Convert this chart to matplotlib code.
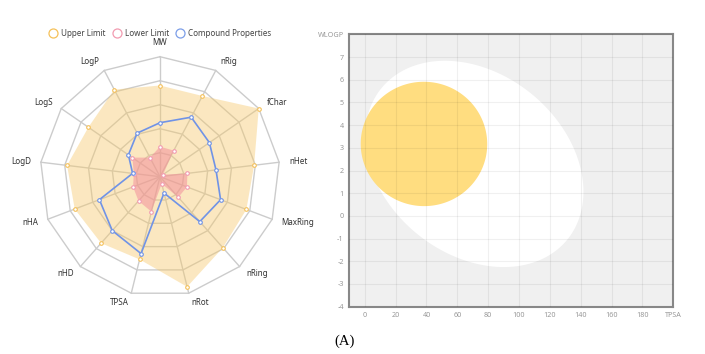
import numpy as np
import matplotlib.pyplot as plt
from matplotlib.lines import Line2D

plt.rcParams['font.family'] = ['Noto Sans', 'DejaVu Sans']

# radar values, scaled so the outer ring is 1
props = ['MW', 'nRig', 'fChar', 'nHet', 'MaxRing', 'nRing', 'nRot',
         'TPSA', 'nHD', 'nHA', 'LogD', 'LogS', 'LogP']
upper = [0.76, 0.76, 1.0, 0.79, 0.77, 0.79, 0.945, 0.71, 0.74, 0.76, 0.78, 0.725, 0.82]
lower = [0.25, 0.246, 0.03, 0.23, 0.24, 0.23, 0.06, 0.30, 0.27, 0.24, 0.22, 0.28, 0.18]
compound = [0.45, 0.56, 0.50, 0.47, 0.54, 0.50, 0.14, 0.66, 0.60, 0.54, 0.23, 0.32, 0.41]

# boiled egg: centre (TPSA, WLOGP), semi axes in TPSA units, tilt in degrees
white_center = (71.05, 2.29)
white_axes = (77.7, 58.6)
white_angle = -39.1
yolk_center = (38.4, 3.17)
yolk_axes = (41.0, 40.3)
yolk_angle = -4.0

tpsa_ticks = [0, 20, 40, 60, 80, 100, 120, 140, 160, 180, 200]
tpsa_labels = ['0', '20', '40', '60', '80', '100', '120', '140', '160', '180', 'TPSA']
wlogp_ticks = [-4, -3, -2, -1, 0, 1, 2, 3, 4, 5, 6, 7, 8]
wlogp_labels = ['-4', '-3', '-2', '-1', '0', '1', '2', '3', '4', '5', '6', '7', 'WLOGP']

W, H = 705, 354
fig = plt.figure(figsize=(W / 100, H / 100), dpi=100)

# ---- radar ----
ax = fig.add_axes([20 / W, 37.3 / H, 280 / W, 280 / H])
ax.set_xlim(-1.1667, 1.1667)
ax.set_ylim(-1.1667, 1.1667)
ax.axis('off')

n = len(props)
ang = np.pi / 2 - 2 * np.pi * np.arange(n) / n


def to_xy(vals):
    v = np.array(vals + vals[:1])
    a = np.append(ang, ang[0])
    return v * np.cos(a), v * np.sin(a)


for k in range(1, 6):
    gx, gy = to_xy([k / 5] * n)
    ax.plot(gx, gy, color='#cccccc', lw=1, zorder=1)
for a in ang:
    ax.plot([0, np.cos(a)], [0, np.sin(a)], color='#cccccc', lw=1, zorder=1)

ux, uy = to_xy(upper)
ax.fill(ux, uy, color='#f6c86a', alpha=0.42, lw=0, zorder=2)
ax.plot(ux[:-1], uy[:-1], 'o', ms=2.6, mfc='white', mec='#f5c15a', mew=0.8, zorder=5)

lx, ly = to_xy(lower)
ax.fill(lx, ly, color='#f2889a', alpha=0.5, lw=0, zorder=3)
ax.plot(lx[:-1], ly[:-1], 'o', ms=2.6, mfc='white', mec='#f29bb0', mew=0.8, zorder=5)

cx, cy = to_xy(compound)
ax.plot(cx, cy, color='#7093e6', lw=1.2, zorder=4)
ax.plot(cx[:-1], cy[:-1], 'o', ms=2.6, mfc='white', mec='#7093e6', mew=0.8, zorder=5)

for name, a in zip(props, ang):
    c, s = np.cos(a), np.sin(a)
    if abs(c) < 0.05:
        ax.text(0, 1.083, name, ha='center', va='bottom', fontsize=5.8, color='#333333')
    else:
        ax.text(1.083 * c, 1.083 * s, name, ha='left' if c > 0 else 'right',
                va='center', fontsize=5.8, color='#333333')

handles = [Line2D([], [], marker='o', ms=6.5, mfc='none', mec=col, mew=0.9, lw=0)
           for col in ['#f5c15a', '#f29bb0', '#7c9ee8']]
fig.legend(handles, ['Upper Limit', 'Lower Limit', 'Compound Properties'],
           loc='center', bbox_to_anchor=(160 / W, 1 - 33 / H), ncol=3, frameon=False,
           fontsize=5.8, handletextpad=0.5, columnspacing=0.9, handlelength=1.0,
           labelcolor='#444444')

# ---- boiled egg ----
ax2 = fig.add_axes([349.3 / W, 47.3 / H, 324 / W, 272.4 / H])
ax2.set_facecolor('#f0f0f0')
ax2.set_xlim(-10, 200)
ax2.set_ylim(-4, 8)
ax2.set_xticks(tpsa_ticks)
ax2.set_xticklabels(tpsa_labels)
ax2.set_yticks(wlogp_ticks)
ax2.set_yticklabels(wlogp_labels)
ax2.tick_params(length=0, labelsize=5.2, colors='#999999', pad=4)
ax2.grid(True, color='k', alpha=0.06, lw=0.8)
ax2.set_axisbelow(False)
for sp in ax2.spines.values():
    sp.set_color('#888888')
    sp.set_linewidth(1.5)

# y stretch so the ellipses are shaped in screen space
p = ax2.transData.transform([(0, 0), (1, 1)])
ratio = (p[1, 1] - p[0, 1]) / (p[1, 0] - p[0, 0])


def egg(center, axes, angle, **kw):
    t = np.linspace(0, 2 * np.pi, 300)
    u, v = axes[0] * np.cos(t), axes[1] * np.sin(t)
    th = np.deg2rad(angle)
    x = center[0] + u * np.cos(th) - v * np.sin(th)
    y = center[1] + (u * np.sin(th) + v * np.cos(th)) / ratio
    ax2.fill(x, y, lw=0, **kw)


egg(white_center, white_axes, white_angle, color='white', zorder=1)
egg(yolk_center, yolk_axes, yolk_angle, color='#ffdd80', zorder=1.1)

fig.text(345 / W, 1 - 341 / H, '(A)', family='Liberation Serif', fontsize=10.5,
         ha='center', va='center')

fig.savefig('out.png', dpi=100)
